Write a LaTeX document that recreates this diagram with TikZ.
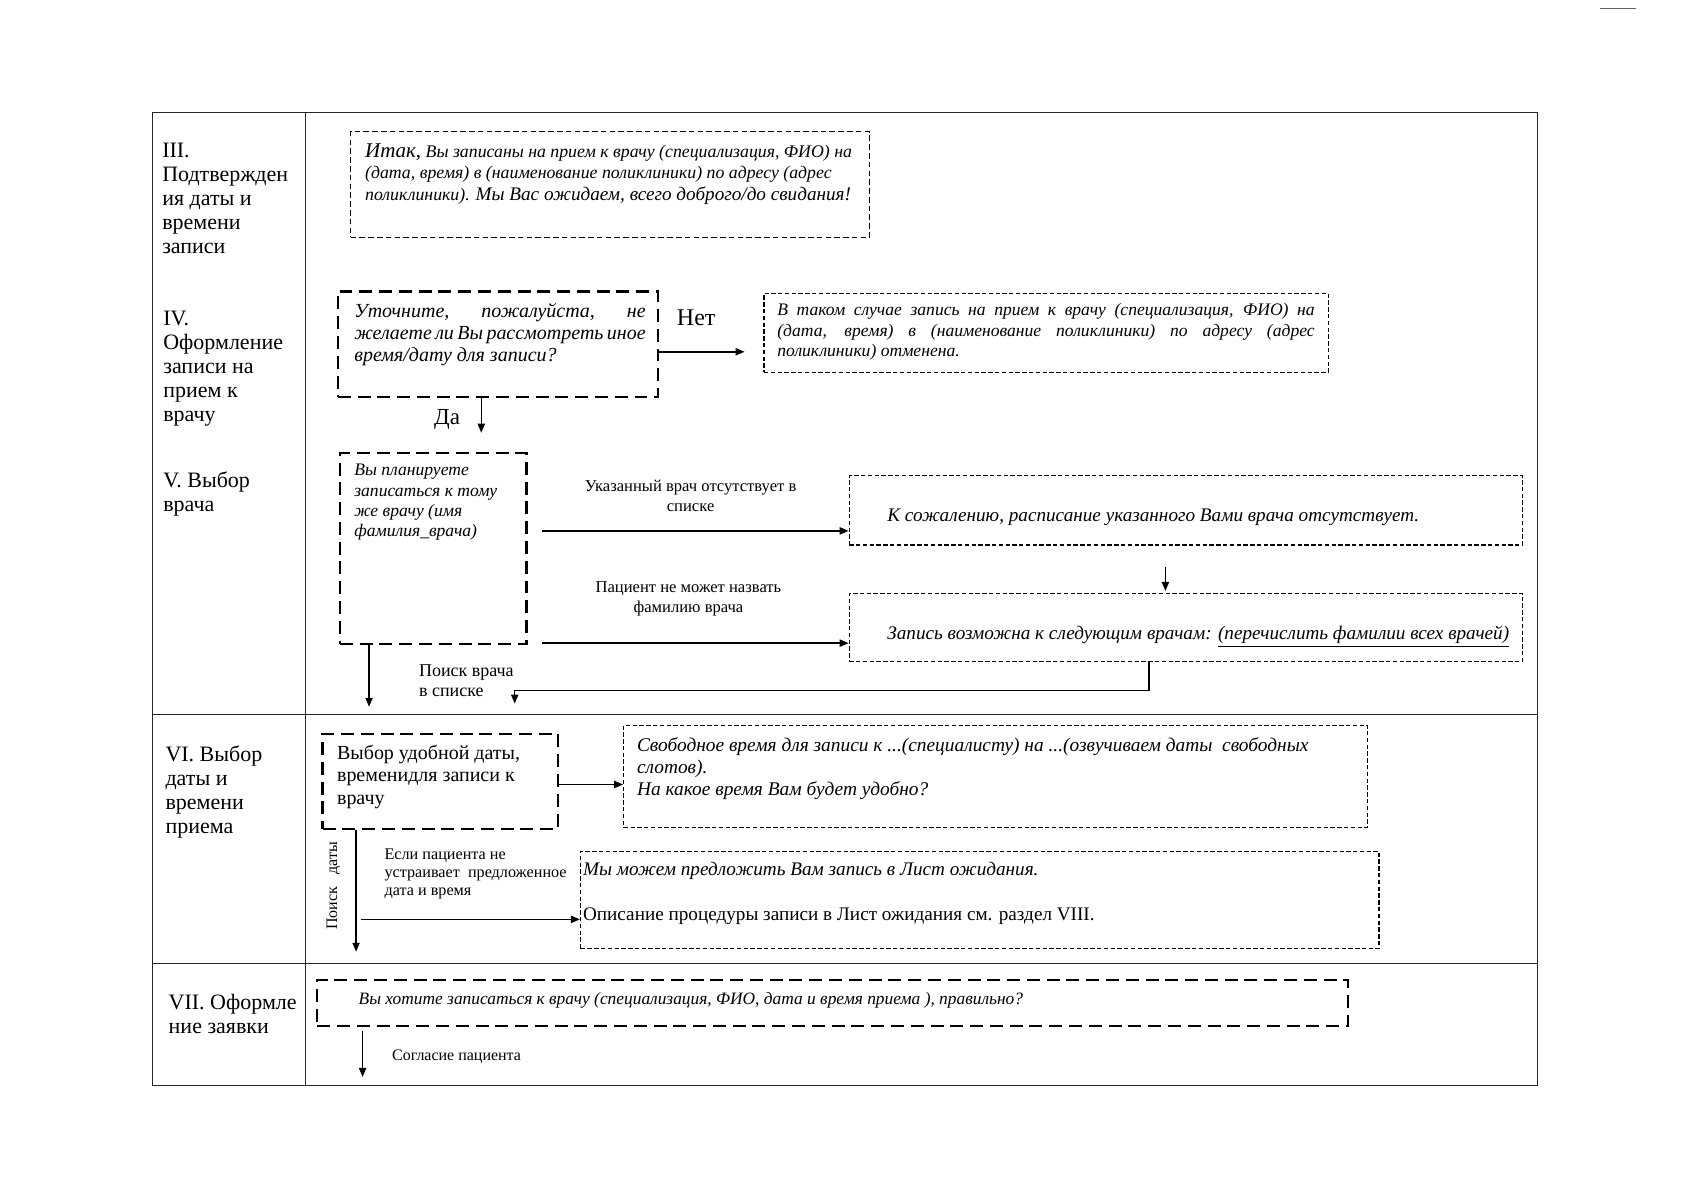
\documentclass[tikz,border=0pt]{standalone}
\usepackage{fontspec}
\setmainfont{Liberation Serif}
\usetikzlibrary{fit,arrows.meta}
\begin{document}
\begin{tikzpicture}[x=0.54pt,y=-0.54pt,
  tbl/.style={line width=0.6pt, draw=black!85},
  thinbox/.style={draw, inner sep=0pt, line width=0.6pt, dash pattern=on 2.2pt off 1.2pt},
  medbox/.style={draw, inner sep=0pt, line width=0.7pt, dash pattern=on 2.8pt off 1.6pt},
  thickbox/.style={draw, inner sep=0pt, line width=1.2pt, dash pattern=on 6.5pt off 3.4pt},
  arr/.style={-{Triangle[length=4.5pt,width=3.6pt]}, line width=0.75pt},
  tx/.style={anchor=north west, inner sep=0pt, align=left},
  txb/.style={anchor=base west, inner sep=0pt},
  lcol/.style={tx, font=\fontsize{11}{12}\selectfont},
  small/.style={inner sep=0pt, align=center, font=\fontsize{8.3}{9.7}\selectfont}
]
\useasboundingbox (0,0) rectangle (1568,1112);
% page mark
\draw[line width=0.6pt, black!60] (1483,8) -- (1516,8);
% table
\draw[tbl] (141,104) rectangle (1425,1006);
\draw[tbl] (283,104) -- (283,1006);
\draw[tbl] (141,662) -- (1425,662);
\draw[tbl] (141,893) -- (1425,893);

% left column labels
\node[lcol] (l3) at (150,132) {III.\\Подтвержден\\ия даты и\\времени\\записи};
\node[lcol] (l4) at (151,288) {IV.\\Оформление\\записи на\\прием к\\врачу};
\node[lcol] (l5) at (151,437) {V. Выбор\\врача};
\node[lcol] (l6) at (153,691) {VI. Выбор\\даты и\\времени\\приема};
\node[lcol] (l7) at (156,921) {VII. Оформле\\ние заявки};

% boxes
\node[medbox, fit={(325,122) (806,220)}] (b3) {};
\node[thickbox, fit={(313,270) (610,368)}] (b4) {};
\node[thinbox, fit={(708,272) (1231,345)}] (b4r) {};
\node[thickbox, fit={(315,420) (488,597)}] (b5) {};
\node[thinbox, fit={(787,441) (1411,505)}] (b5a) {};
\node[thinbox, fit={(787,550) (1411,613)}] (b5b) {};
\node[thickbox, fit={(299,680) (517,768)}] (b6a) {};
\node[thinbox, fit={(578,672) (1267,767)}] (b6b) {};
\node[thinbox, fit={(538,789) (1278,879)}] (b6c) {};
\node[thickbox, fit={(294,908) (1249,951)}] (b7) {};

% box texts
\node[tx, font=\fontsize{8.9}{10.6}\selectfont\itshape] (t3) at (338,133)
 {{\fontsize{10.5}{10.6}\selectfont Итак,} Вы записаны на прием к врачу (специализация, ФИО) на\\
  (дата, время) в (наименование поликлиники) по адресу (адрес\\
  поликлиники). {\fontsize{9.6}{10.6}\selectfont Мы Вас ожидаем, всего доброго/до свидания!}};
\node[tx, font=\fontsize{10}{11}\selectfont\itshape] (t4) at (328,281)
 {\makebox[145.8pt][s]{Уточните, пожалуйста, не}\\
  \makebox[145.8pt][s]{желаете ли Вы рассмотреть иное}\\
  время/дату для записи?};
\node[tx, font=\fontsize{8.8}{10.3}\selectfont\itshape] (t4r) at (720,281)
 {\makebox[268.9pt][s]{В таком случае запись на прием к врачу (специализация, ФИО) на}\\
  \makebox[268.9pt][s]{(дата, время) в (наименование поликлиники) по адресу (адрес}\\
  поликлиники) отменена.};
\node[tx, font=\fontsize{8.8}{10.1}\selectfont\itshape] (t5) at (328,430)
 {Вы планируете\\записаться к тому\\же врачу (имя\\фамилия\_врача)};
\node[txb, font=\fontsize{9.6}{12}\selectfont\itshape] (t5a) at (822,483)
 {К сожалению, расписание указанного Вами врача отсутствует.};
\node[txb, font=\fontsize{9.6}{12}\selectfont\itshape] (t5b) at (822,593)
 {Запись возможна к следующим врачам: \underline{(перечислить фамилии всех врачей)}};
\node[tx, font=\fontsize{10}{11.3}\selectfont] (t6a) at (312,690)
 {Выбор удобной даты,\\временидля записи к\\врачу};
\node[tx, font=\fontsize{9.7}{11}\selectfont\itshape] (t6b) at (590,683)
 {Свободное время для записи к ...(специалисту) на ...(озвучиваем даты\ \ свободных\\
  слотов).\\
  На какое время Вам будет удобно?};
\node[txb, font=\fontsize{9.6}{12}\selectfont\itshape] (t6c1) at (540,811)
 {Мы можем предложить Вам запись в Лист ожидания.};
\node[txb, font=\fontsize{9.6}{12}\selectfont] (t6c2) at (540,853)
 {Описание процедуры записи в Лист ожидания см. раздел VIII.};
\node[txb, font=\fontsize{8.7}{10}\selectfont\itshape] (t7) at (332,931)
 {Вы хотите записаться к врачу (специализация, ФИО, дата и время приема ), правильно?};

% connector labels
\node[txb, font=\fontsize{12}{13}\selectfont] (no) at (627,302) {Нет};
\node[txb, font=\fontsize{11.5}{13}\selectfont] (yes) at (402,393) {Да};
\node[small, anchor=north] (lab1) at (640,445) {Указанный врач отсутствует в\\списке};
\node[small, anchor=north] (lab2) at (638,539) {Пациент не может назвать\\фамилию врача};
\node[tx, font=\fontsize{9}{9.7}\selectfont] (lab3) at (388,616) {Поиск врача\\в списке};
\node[tx, font=\fontsize{8.1}{9.2}\selectfont] (lab4) at (356,786)
 {Если пациента не\\устраивает\ \ предложенное\\дата и время};
\node[inner sep=0pt, rotate=90, font=\fontsize{8}{9}\selectfont] (lab5) at (309,821)
 {\makebox[44pt][s]{Поиск даты}};
\node[txb, font=\fontsize{8}{9}\selectfont] (lab6) at (363,983) {Согласие пациента};

% coordinates
\coordinate (e1) at (690,326);
\coordinate (e2) at (446,401);
\coordinate (y492) at (0,492);
\coordinate (y596) at (0,596);
\coordinate (c1080) at (1080,0);
\coordinate (k1) at (1065,640);
\coordinate (e6) at (477,652);
\coordinate (e7) at (342,655);
\coordinate (y727) at (0,727);
\coordinate (e9) at (330,882);
\coordinate (s10) at (335,852);
\coordinate (e11) at (336,998);

% connectors
\draw[arr] (b4.east |- e1) -- (e1);
\draw[arr] (b4.south -| e2) -- (e2);
\draw[arr, shorten <=7pt] (b5.east |- y492) -- (b5a.west |- y492);
\draw[arr, shorten <=7pt] (b5.east |- y596) -- (b5b.west |- y596);
\draw[arr, shorten <=10.8pt, shorten >=1pt] (b5a.south -| c1080) -- (b5b.north -| c1080);
\draw[arr] (b5b.south -| k1) -- (k1) -| (e6);
\draw[arr] (b5.south -| e7) -- (e7);
\draw[arr] (b6a.east |- y727) -- (b6b.west |- y727);
\draw[arr] (b6a.south -| e9) -- (e9);
\draw[arr] (s10) -- (b6c.west |- s10);
\draw[arr, shorten <=2pt] (b7.south -| e11) -- (e11);
\end{tikzpicture}
\end{document}
